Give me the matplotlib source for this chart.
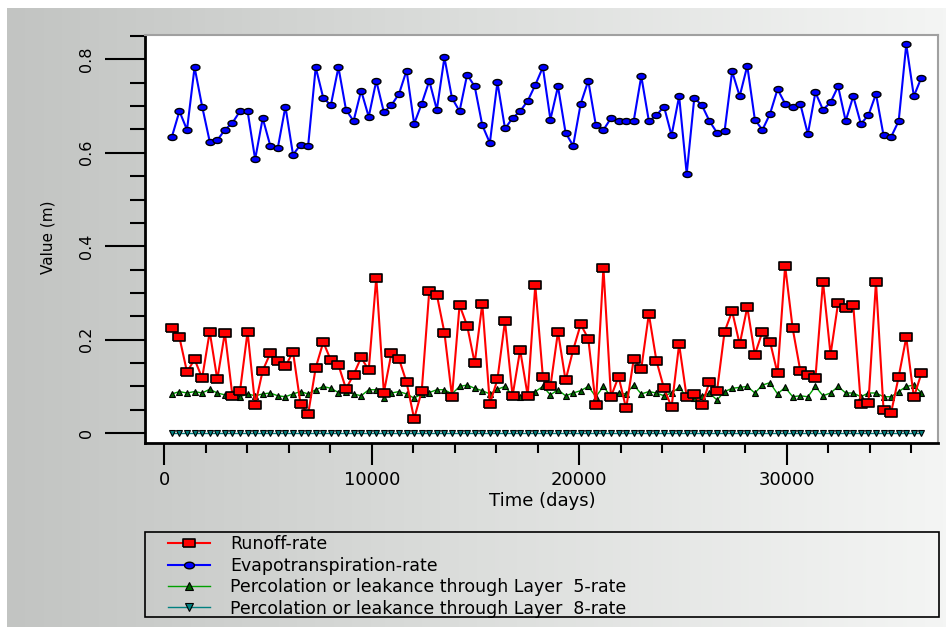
import matplotlib
matplotlib.use("Agg")
import matplotlib.pyplot as plt
from matplotlib.ticker import MultipleLocator
from matplotlib.patches import Rectangle
from matplotlib.colors import LinearSegmentedColormap
import numpy as np

# --- data (yearly output) ---
years = np.arange(1, 101)
time_days = years * 365

evap_rate = [
    0.634, 0.689, 0.649, 0.783, 0.699, 0.624, 0.627, 0.649, 0.664, 0.689,
    0.689, 0.586, 0.674, 0.615, 0.611, 0.699, 0.596, 0.617, 0.615, 0.783,
    0.717, 0.702, 0.783, 0.692, 0.668, 0.733, 0.677, 0.754, 0.687, 0.702,
    0.726, 0.776, 0.662, 0.705, 0.754, 0.692, 0.804, 0.717, 0.689, 0.767,
    0.742, 0.659, 0.621, 0.751, 0.652, 0.674, 0.689, 0.711, 0.745, 0.783,
    0.671, 0.742, 0.643, 0.615, 0.705, 0.754, 0.659, 0.649, 0.674, 0.668,
    0.668, 0.668, 0.764, 0.668, 0.680, 0.699, 0.637, 0.721, 0.555, 0.717,
    0.702, 0.668, 0.643, 0.646, 0.774, 0.721, 0.786, 0.671, 0.649, 0.683,
    0.736, 0.705, 0.699, 0.705, 0.640, 0.729, 0.692, 0.708, 0.742, 0.668,
    0.721, 0.662, 0.680, 0.726, 0.637, 0.634, 0.668, 0.832, 0.721, 0.761,
]

runoff_rate = [
    0.224, 0.205, 0.131, 0.158, 0.118, 0.217, 0.115, 0.215, 0.080, 0.090,
    0.217, 0.060, 0.134, 0.171, 0.155, 0.143, 0.174, 0.062, 0.041, 0.140,
    0.195, 0.156, 0.146, 0.095, 0.125, 0.162, 0.135, 0.333, 0.087, 0.171,
    0.159, 0.109, 0.031, 0.090, 0.305, 0.296, 0.215, 0.078, 0.274, 0.230,
    0.150, 0.277, 0.063, 0.115, 0.240, 0.080, 0.178, 0.080, 0.317, 0.121,
    0.100, 0.217, 0.113, 0.178, 0.233, 0.202, 0.060, 0.354, 0.078, 0.121,
    0.053, 0.158, 0.138, 0.255, 0.155, 0.096, 0.056, 0.190, 0.077, 0.084,
    0.060, 0.109, 0.090, 0.217, 0.261, 0.190, 0.270, 0.168, 0.217, 0.196,
    0.128, 0.358, 0.224, 0.134, 0.125, 0.118, 0.324, 0.168, 0.279, 0.268,
    0.274, 0.063, 0.065, 0.324, 0.050, 0.044, 0.121, 0.205, 0.077, 0.128,
]

perc_layer5 = [
    0.084, 0.089, 0.086, 0.089, 0.086, 0.094, 0.086, 0.082, 0.086, 0.078,
    0.084, 0.080, 0.084, 0.086, 0.080, 0.078, 0.084, 0.089, 0.084, 0.093,
    0.100, 0.096, 0.087, 0.089, 0.084, 0.080, 0.093, 0.093, 0.075, 0.086,
    0.089, 0.084, 0.075, 0.084, 0.087, 0.093, 0.093, 0.084, 0.100, 0.103,
    0.096, 0.091, 0.084, 0.094, 0.100, 0.080, 0.078, 0.084, 0.089, 0.100,
    0.082, 0.093, 0.080, 0.086, 0.091, 0.100, 0.078, 0.100, 0.078, 0.086,
    0.084, 0.103, 0.084, 0.089, 0.086, 0.080, 0.086, 0.098, 0.078, 0.075,
    0.080, 0.086, 0.071, 0.089, 0.096, 0.098, 0.100, 0.086, 0.103, 0.108,
    0.084, 0.098, 0.078, 0.080, 0.078, 0.100, 0.080, 0.086, 0.100, 0.086,
    0.086, 0.078, 0.086, 0.086, 0.078, 0.078, 0.089, 0.100, 0.103, 0.086,
]

perc_layer8 = [
    0.0, 0.0, 0.0, 0.0, 0.0, 0.0, 0.0, 0.0, 0.0, 0.0,
    0.0, 0.0, 0.0, 0.0, 0.0, 0.0, 0.0, 0.0, 0.0, 0.0,
    0.0, 0.0, 0.0, 0.0, 0.0, 0.0, 0.0, 0.0, 0.0, 0.0,
    0.0, 0.0, 0.0, 0.0, 0.0, 0.0, 0.0, 0.0, 0.0, 0.0,
    0.0, 0.0, 0.0, 0.0, 0.0, 0.0, 0.0, 0.0, 0.0, 0.0,
    0.0, 0.0, 0.0, 0.0, 0.0, 0.0, 0.0, 0.0, 0.0, 0.0,
    0.0, 0.0, 0.0, 0.0, 0.0, 0.0, 0.0, 0.0, 0.0, 0.0,
    0.0, 0.0, 0.0, 0.0, 0.0, 0.0, 0.0, 0.0, 0.0, 0.0,
    0.0, 0.0, 0.0, 0.0, 0.0, 0.0, 0.0, 0.0, 0.0, 0.0,
    0.0, 0.0, 0.0, 0.0, 0.0, 0.0, 0.0, 0.0, 0.0, 0.0,
]

labels = [
    "Runoff-rate",
    "Evapotranspiration-rate",
    "Percolation or leakance through Layer  5-rate",
    "Percolation or leakance through Layer  8-rate",
]

W, H = 946, 627
fig = plt.figure(figsize=(W / 100, H / 100), dpi=100)
fig.patch.set_facecolor("white")

# gradient background (gray on the left, near white on the right)
bg = fig.add_axes([7 / W, 0, 1 - 7 / W, 1 - 8 / H], zorder=-10)
grad = np.linspace(0, 1, 256).reshape(1, -1)
bg_cmap = LinearSegmentedColormap.from_list("bg", ["#c2c4c2", "#dcdedc", "#f4f5f4"])
bg.imshow(grad, aspect="auto", cmap=bg_cmap, extent=[0, 1, 0, 1])
bg.set_axis_off()

# marker shapes (the reference is stretched horizontally)
rect = [(-1.5, -1), (1.5, -1), (1.5, 1), (-1.5, 1), (-1.5, -1)]
th = np.linspace(0, 2 * np.pi, 25)
ellipse = list(zip(1.5 * np.cos(th), np.sin(th)))

ax = fig.add_axes([145 / W, 1 - 443 / H, (938 - 145) / W, (443 - 35) / H])
ax.set_facecolor("white")

h_run, = ax.plot(time_days, runoff_rate, color="#ff0000", lw=1.5, marker=rect, ms=8.5,
                 mfc="#ff0000", mec="black", mew=1.2, zorder=3)
h_evap, = ax.plot(time_days, evap_rate, color="#0000ff", lw=1.5, marker=ellipse, ms=6.5,
                  mfc="#0000ff", mec="black", mew=1.0, zorder=3)
h_p5, = ax.plot(time_days, perc_layer5, color="#00a000", lw=1.0, marker="^", ms=5,
                mfc="#006400", mec="black", mew=0.8, zorder=2)
h_p8, = ax.plot(time_days, perc_layer8, color="#008080", lw=1.0, marker="v", ms=5,
                mfc="#008080", mec="black", mew=0.8, zorder=2)

ax.set_xlim(-930, 37300)
ax.set_ylim(-0.021, 0.852)
ax.xaxis.set_major_locator(MultipleLocator(10000))
ax.xaxis.set_minor_locator(MultipleLocator(2000))
ax.yaxis.set_minor_locator(MultipleLocator(0.05))
ax.set_yticks([0, 0.2, 0.4, 0.6, 0.8])
ax.set_yticklabels(["0", "0.2", "0.4", "0.6", "0.8"], rotation=90, va="center")

ax.tick_params(axis="y", which="major", length=29, width=1.5, pad=8, labelsize=11.5)
ax.tick_params(axis="y", which="minor", length=11, width=1.5)
ax.tick_params(axis="x", which="major", length=16, width=1.5, pad=4, labelsize=13)
ax.tick_params(axis="x", which="minor", length=7, width=1.5)

for side in ("left", "bottom"):
    ax.spines[side].set_color("black")
    ax.spines[side].set_linewidth(2)
for side in ("top", "right"):
    ax.spines[side].set_color("#a0a0a0")
    ax.spines[side].set_linewidth(1.5)

fig.text(48 / W, 1 - 237 / H, "Value (m)", rotation=90, ha="center", va="center", fontsize=11)
fig.text(542 / W, 1 - 501 / H, "Time (days)", ha="center", va="center", fontsize=13)

# legend box
fig.patches.append(Rectangle((145 / W, 1 - 617 / H), (939 - 145) / W, (617 - 532) / H,
                             transform=fig.transFigure, fill=False, edgecolor="black",
                             linewidth=1.2))
leg = fig.legend([h_run, h_evap, h_p5, h_p8], labels, loc="upper left",
                 bbox_to_anchor=(156 / W, 1 - 523 / H), frameon=False,
                 fontsize=12.5, handlelength=2.4, handletextpad=1.15,
                 labelspacing=0.2, borderpad=0.2, markerscale=1.1)

fig.savefig("out.png", dpi=100, facecolor=fig.get_facecolor())
